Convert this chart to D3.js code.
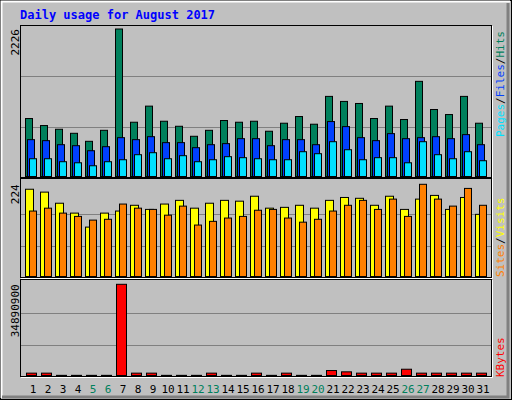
<!DOCTYPE html>
<html><head><meta charset="utf-8">
<script src="https://cdn.jsdelivr.net/npm/d3@7"></script>
<style>body{margin:0;background:#fff}svg{display:block}text{font-family:"DejaVu Sans Mono",monospace}</style>
</head><body><svg id="chart" width="512" height="400"></svg>
<script>
const days = d3.range(1, 32);
const weekends = [5, 6, 12, 13, 19, 20, 26, 27];
const hits = [875,769,713,652,531,697,2226,819,1062,834,758,607,697,845,819,834,683,804,905,789,1209,1133,1102,875,1062,860,1436,1011,935,1209,804];
const files = [556,541,480,465,389,450,586,556,601,511,511,435,480,496,571,571,465,556,556,480,829,753,586,541,647,571,586,601,571,632,480];
const pages = [268,268,223,207,162,223,253,329,359,268,314,223,253,299,284,268,253,253,374,344,525,404,253,284,284,207,525,329,268,374,238];
const visits = [212,205,178,154,120,154,159,173,163,176,185,166,178,185,183,195,166,168,173,166,185,192,190,173,195,163,188,197,163,192,151];
const sites = [159,166,154,146,137,139,176,166,163,149,171,125,134,142,146,161,163,142,132,139,159,173,185,163,188,146,224,188,171,214,173];
const kbytes = [900000,900000,60000,60000,60000,60000,34890900,900000,900000,60000,60000,60000,900000,60000,60000,900000,60000,900000,60000,60000,1900000,1400000,900000,900000,900000,2400000,900000,900000,900000,900000,900000];

const svg = d3.select("#chart");

// frame with bevel
svg.append("rect").attr("x", 0).attr("y", 0).attr("width", 512).attr("height", 400).attr("fill", "#c0c0c0");
svg.append("rect").attr("x", 0.5).attr("y", 0.5).attr("width", 511).attr("height", 399).attr("fill", "none").attr("stroke", "#000");
svg.append("path").attr("d", "M1.5,398V1.5H510").attr("fill", "none").attr("stroke", "#fff").attr("stroke-width", 2);
svg.append("path").attr("d", "M2,397H508V3").attr("fill", "none").attr("stroke", "#808080").attr("stroke-width", 3);

svg.append("text").attr("x", 20).attr("y", 19).attr("fill", "#0000ff").attr("font-size", 12).attr("font-weight", "bold")
  .text("Daily usage for August 2017");

const x = d3.scaleLinear().domain([1, 32]).range([25, 490]);

const panels = [
  { top: 25, bottom: 177, maxTop: 29, max: d3.max(hits), label: "2226" },
  { top: 178, bottom: 277, maxTop: 184.3, max: d3.max(sites), label: "224" },
  { top: 279, bottom: 376, maxTop: 284.3, max: d3.max(kbytes), label: "34890900" }
];

panels.forEach(p => {
  p.y = d3.scaleLinear().domain([0, p.max]).range([p.bottom - 0.5, p.maxTop]);
  svg.append("rect").attr("x", 20.5).attr("y", p.top + 0.5).attr("width", 471).attr("height", p.bottom - p.top)
    .attr("fill", "#c0c0c0").attr("stroke", "#000");
  svg.append("path").attr("d", `M21,${p.bottom + 1.5}H492.5V${p.top + 1}`).attr("fill", "none").attr("stroke", "#fff");
  [0.333, 0.68].forEach(f => {
    const gy = Math.round(p.y(p.max * f)) + 0.5;
    svg.append("line").attr("x1", 21).attr("x2", 491).attr("y1", gy).attr("y2", gy).attr("stroke", "#808080");
  });
  svg.append("text").attr("transform", `translate(19,${p.maxTop}) rotate(-90)`).attr("text-anchor", "end")
    .attr("font-size", 11).attr("fill", "#000").text(p.label);
});

function bars(panel, data, dx, w, color) {
  svg.append("g").selectAll("rect").data(data).enter().append("rect")
    .attr("x", (d, i) => x(days[i]) + dx + 0.5)
    .attr("y", d => panel.y(d))
    .attr("width", w)
    .attr("height", d => Math.max(0, panel.y(0) - panel.y(d)))
    .attr("fill", color).attr("stroke", "#000");
}
bars(panels[0], hits, 0, 7, "#00805c");
bars(panels[0], files, 2, 7, "#0040ff");
bars(panels[0], pages, 4, 7, "#00e0ff");
bars(panels[1], visits, 0, 8, "#ffff00");
bars(panels[1], sites, 4, 7, "#ff8000");
bars(panels[2], kbytes, 1, 10, "#ff0000");

// day labels
svg.append("g").selectAll("text").data(days).enter().append("text")
  .attr("x", d => x(d) + 8).attr("y", 393).attr("text-anchor", "middle").attr("font-size", 11)
  .attr("fill", d => weekends.includes(d) ? "#00805c" : "#000").text(d => d);

// right legends
function legend(y0, parts) {
  const t = svg.append("text").attr("transform", `translate(504,${y0}) rotate(-90)`).attr("font-size", 11);
  parts.forEach(([s, c]) => t.append("tspan").attr("fill", c).text(s));
}
legend(137, [["Pages", "#00e0ff"], ["/", "#000"], ["Files", "#0040ff"], ["/", "#000"], ["Hits", "#00805c"]]);
legend(277, [["Sites", "#ff8000"], ["/", "#000"], ["Visits", "#ffff00"]]);
legend(377, [["KBytes", "#ff0000"]]);
</script></body></html>
